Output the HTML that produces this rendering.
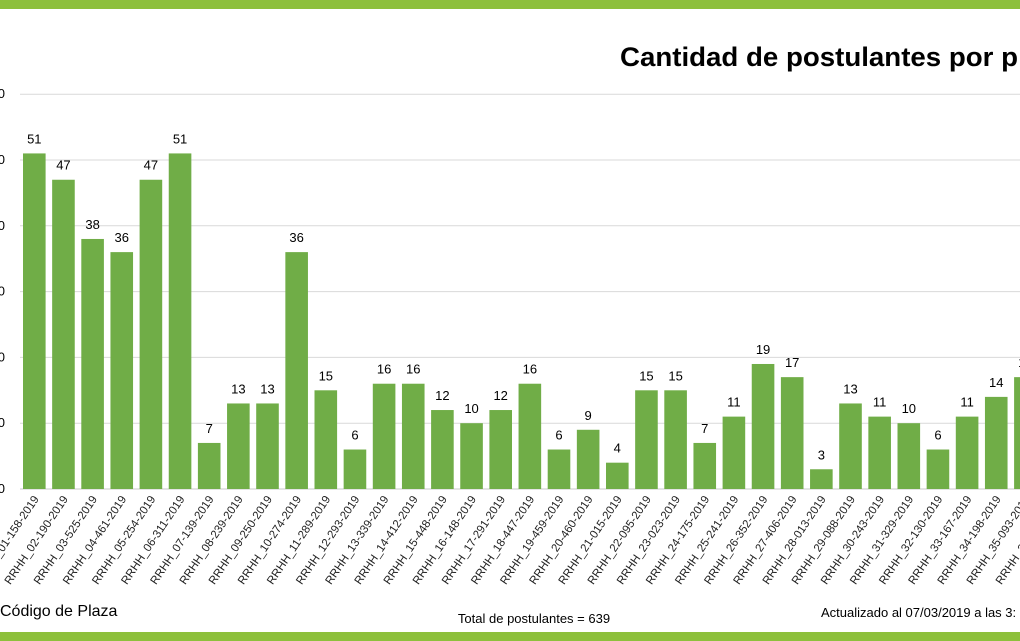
<!DOCTYPE html>
<html><head><meta charset="utf-8"><style>
html,body{margin:0;padding:0;background:#fff;width:1020px;height:641px;overflow:hidden}
svg{display:block;font-family:"Liberation Sans",Arial,sans-serif}
</style></head><body>
<svg id="c" width="1020" height="641" viewBox="0 0 1020 641" xmlns="http://www.w3.org/2000/svg">
<rect x="0" y="0" width="1020" height="9" fill="#8dc03b"/>
<rect x="0" y="632" width="1020" height="9" fill="#8dc03b"/>
<text x="620" y="66" font-size="27" font-weight="bold" fill="#000" textLength="398" lengthAdjust="spacingAndGlyphs">Cantidad de postulantes por p</text>
<g id="g"></g>
<text x="0" y="616" font-size="16" fill="#000">Código de Plaza</text>
<text x="534" y="623" font-size="13" fill="#000" text-anchor="middle">Total de postulantes = 639</text>
<text x="821" y="617" font-size="13" fill="#000">Actualizado al 07/03/2019 a las 3:</text>
</svg>
<script>
var vals=[51,47,38,36,47,51,7,13,13,36,15,6,16,16,12,10,12,16,6,9,4,15,15,7,11,19,17,3,13,11,10,6,11,14,17,10];
var codes=["01-158","02-190","03-525","04-461","05-254","06-311","07-139","08-239","09-250","10-274","11-289","12-293","13-339","14-412","15-448","16-148","17-291","18-447","19-459","20-460","21-015","22-095","23-023","24-175","25-241","26-352","27-406","28-013","29-088","30-243","31-329","32-130","33-167","34-198","35-093","36-100"];
var s="";
for(var k=0;k<=6;k++){var y=489-k*65.8;
 s+='<line x1="20" x2="1020" y1="'+y+'" y2="'+y+'" stroke="'+(k==0?'#c8c8c8':'#d9d9d9')+'" stroke-width="1"/>';
 s+='<text x="5" y="'+(y+4)+'" font-size="13" text-anchor="end">'+(k*10)+'</text>';}
for(var i=0;i<vals.length;i++){
 var x=23+29.15*i,h=vals[i]*6.58,cx=x+11.3;
 s+='<rect x="'+x+'" y="'+(489-h)+'" width="22.6" height="'+h+'" fill="#70ad47"/>';
 s+='<text x="'+cx+'" y="'+(489-h-10)+'" font-size="13" text-anchor="middle">'+vals[i]+'</text>';
 s+='<text transform="translate('+(cx+5)+',499) rotate(-56)" font-size="11.5" text-anchor="end" fill="#222" textLength="104" lengthAdjust="spacingAndGlyphs">RRHH_'+codes[i]+'-2019</text>';
}
document.getElementById("g").innerHTML=s;
</script>
</body></html>
